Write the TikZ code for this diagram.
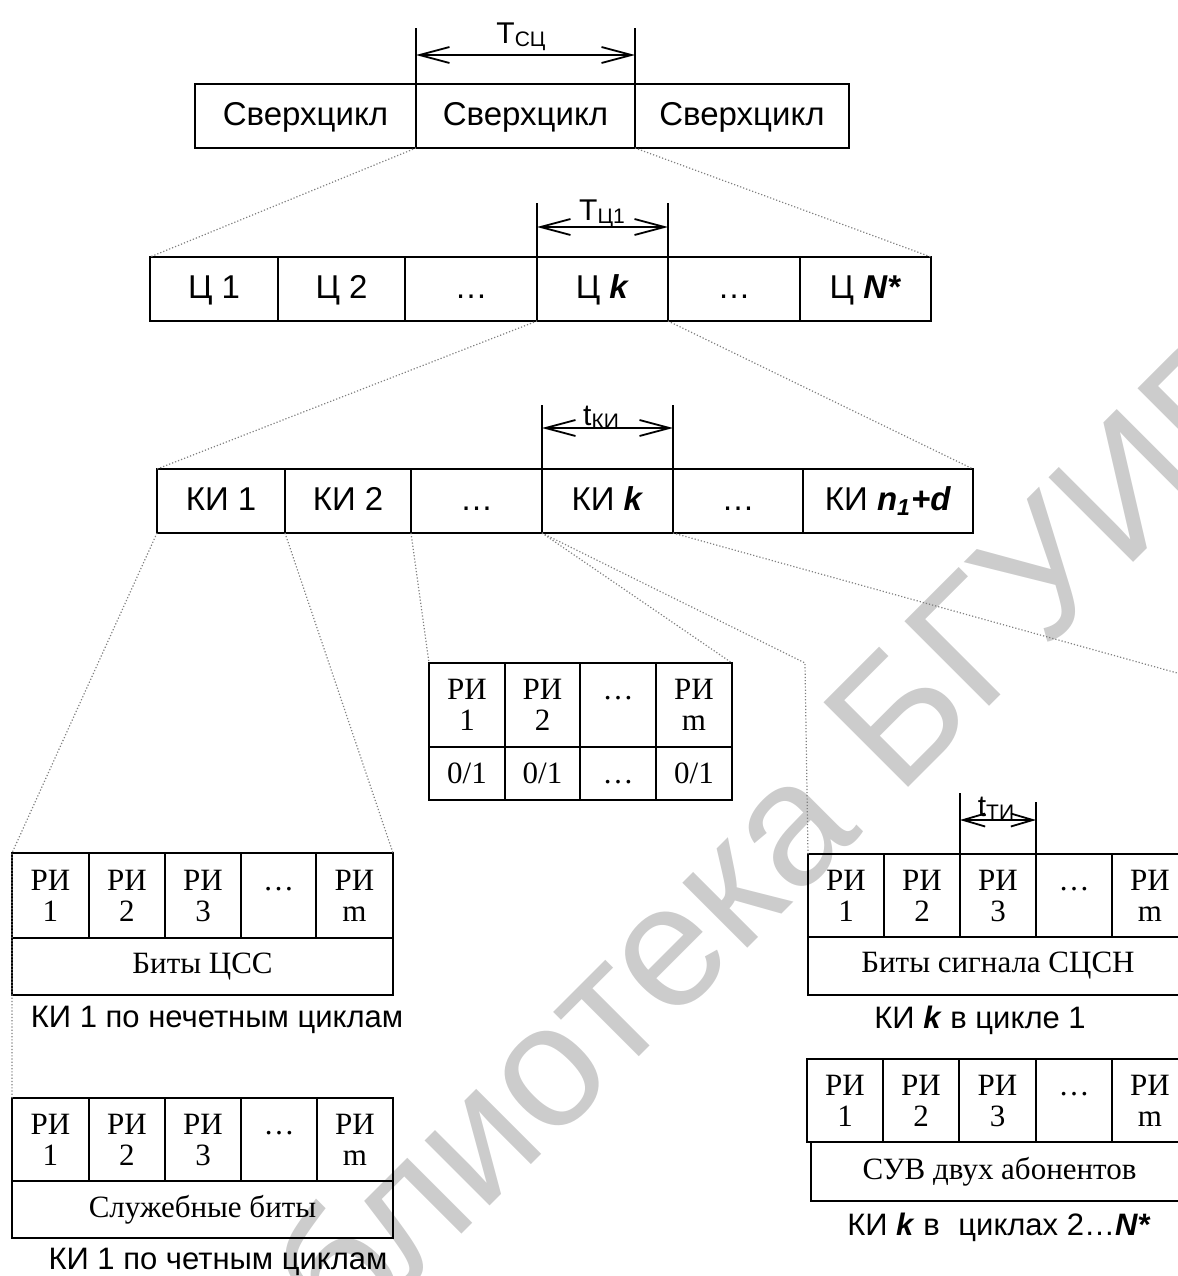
\documentclass[tikz,border=0pt]{standalone}
\usepackage{fontspec}
\setmainfont{Liberation Sans}
\newfontfamily\serifrm{Liberation Serif}
\usetikzlibrary{arrows.meta}

% font sizes (1 unit = 0.5pt)
\newcommand\rowtxt{\fontsize{16.5}{18}\selectfont}
\newcommand\captxt{\fontsize{15.5}{17}\selectfont}
\newcommand\tabtxt{\serifrm\fontsize{15.5}{15.5}\selectfont}
\newcommand\dimtxt{\fontsize{15}{16}\selectfont}
\newcommand\subtxt{\fontsize{10.5}{11}\selectfont}
\newcommand\sublab[1]{\raisebox{-1.5pt}{\subtxt #1}}
\newcommand\bi[1]{\textbf{\textit{#1}}}
\newcommand\dotsup{\vphantom{Р}…\\\phantom{1}}

% one rectangular cell given by its two corners (x1,y1) (x2,y2)
\newcommand\cellat[7][]{%
  \pgfmathsetmacro\cellw{(#5-#3)*0.5}%
  \pgfmathsetmacro\cellh{(#6-#4)*0.5}%
  \node[cellbox,#1,minimum width=\cellw pt,minimum height=\cellh pt]
    (#2) at ({(#3+#5)/2},{(#4+#6)/2}) {#7};}

\tikzset{
  cellbox/.style={draw, line width=1pt, inner sep=0pt, outer sep=0pt, font=\rowtxt},
  rowcell/.style={text height=11.8pt, text depth=2.5pt},
  tabcell/.style={font=\tabtxt, align=center},
  dimline/.style={line width=0.9pt},
  dimarrow/.style={line width=0.9pt,
    {Straight Barb[length=15pt,width=8pt]}-{Straight Barb[length=15pt,width=8pt]}},
  smallarrow/.style={line width=0.9pt,
    {Straight Barb[length=11pt,width=6.5pt]}-{Straight Barb[length=11pt,width=6.5pt]}},
  dimlabel/.style={font=\dimtxt, inner sep=0pt, anchor=base},
  dotline/.style={draw=black!50, line width=0.6pt, densely dotted},
  caption/.style={font=\captxt, inner sep=0pt},
  wmark/.style={font=\fontsize{87}{90}\selectfont, text=black!20, inner sep=0pt}
}

\begin{document}
\begin{tikzpicture}[x=0.5pt,y=-0.5pt]
\useasboundingbox (0,0) rectangle (1178,1276);
\clip (0,0) rectangle (1178,1276);

% watermark
\node[wmark, anchor=base west, rotate=45] (wm) at (195,1501) {Библиотека БГУИР};

% superframes
\cellat[rowcell]{s1}{195}{84}{416}{148}{Сверхцикл}
\cellat[rowcell]{s2}{416}{84}{635}{148}{Сверхцикл}
\cellat[rowcell]{s3}{635}{84}{849}{148}{Сверхцикл}

\coordinate (d1a) at (416,28);
\coordinate (d1b) at (635,28);
\coordinate (d1l) at (416,55);
\coordinate (d1r) at (635,55);
\draw[dimline] (s2.north west) -- (d1a);
\draw[dimline] (s2.north east) -- (d1b);
\draw[dimarrow] (d1l) -- (d1r);
\node[dimlabel] (d1t) at (521,43) {T\sublab{СЦ}};

% frames
\cellat[rowcell]{c1}{150}{257}{278}{321}{Ц 1}
\cellat[rowcell]{c2}{278}{257}{405}{321}{Ц 2}
\cellat[rowcell]{c3}{405}{257}{537}{321}{…}
\cellat[rowcell]{c4}{537}{257}{668}{321}{Ц \bi{k}}
\cellat[rowcell]{c5}{668}{257}{800}{321}{…}
\cellat[rowcell]{c6}{800}{257}{931}{321}{Ц \bi{N*}}

\coordinate (d2a) at (537,203);
\coordinate (d2b) at (668,203);
\coordinate (d2l) at (537,227);
\coordinate (d2r) at (668,227);
\draw[dimline] (c4.north west) -- (d2a);
\draw[dimline] (c4.north east) -- (d2b);
\draw[dimarrow] (d2l) -- (d2r);
\node[dimlabel] (d2t) at (602,220) {T\sublab{Ц1}};

% channel intervals
\cellat[rowcell]{k1}{157}{469}{285}{533}{КИ 1}
\cellat[rowcell]{k2}{285}{469}{411}{533}{КИ 2}
\cellat[rowcell]{k3}{411}{469}{542}{533}{…}
\cellat[rowcell]{k4}{542}{469}{673}{533}{КИ \bi{k}}
\cellat[rowcell]{k5}{673}{469}{803}{533}{…}
\cellat[rowcell]{k6}{803}{469}{973}{533}{КИ \bi{n\textsubscript{1}+d}}

\coordinate (d3a) at (542,405);
\coordinate (d3b) at (673,405);
\coordinate (d3l) at (542,428);
\coordinate (d3r) at (673,428);
\draw[dimline] (k4.north west) -- (d3a);
\draw[dimline] (k4.north east) -- (d3b);
\draw[dimarrow] (d3l) -- (d3r);
\node[dimlabel] (d3t) at (601,425) {t\sublab{КИ}};

% zoom-in connectors
\draw[dotline] (s2.south west) -- (c1.north west);
\draw[dotline] (s2.south east) -- (c6.north east);
\draw[dotline] (c4.south west) -- (k1.north west);
\draw[dotline] (c4.south east) -- (k6.north east);

% middle table: one channel interval
\cellat[tabcell]{m1}{429}{663}{505}{747}{РИ\\1}
\cellat[tabcell]{m2}{505}{663}{580}{747}{РИ\\2}
\cellat[tabcell]{m3}{580}{663}{656}{747}{\dotsup}
\cellat[tabcell]{m4}{656}{663}{732}{747}{РИ\\m}
\cellat[tabcell]{m5}{429}{747}{505}{800}{0/1}
\cellat[tabcell]{m6}{505}{747}{580}{800}{0/1}
\cellat[tabcell]{m7}{580}{747}{656}{800}{\vphantom{0}…}
\cellat[tabcell]{m8}{656}{747}{732}{800}{0/1}

% left upper table
\cellat[tabcell]{a1}{12}{853}{89}{938}{РИ\\1}
\cellat[tabcell]{a2}{89}{853}{165}{938}{РИ\\2}
\cellat[tabcell]{a3}{165}{853}{241}{938}{РИ\\3}
\cellat[tabcell]{a4}{241}{853}{316}{938}{\dotsup}
\cellat[tabcell]{a5}{316}{853}{393}{938}{РИ\\m}
\cellat[tabcell]{a6}{12}{938}{393}{995}{Биты ЦСС}
\node[caption] (ac) at (217,1020) {КИ 1 по нечетным циклам};

% left lower table
\cellat[tabcell]{b1}{12}{1098}{89}{1181}{РИ\\1}
\cellat[tabcell]{b2}{89}{1098}{165}{1181}{РИ\\2}
\cellat[tabcell]{b3}{165}{1098}{241}{1181}{РИ\\3}
\cellat[tabcell]{b4}{241}{1098}{317}{1181}{\dotsup}
\cellat[tabcell]{b5}{317}{1098}{393}{1181}{РИ\\m}
\cellat[tabcell]{b6}{12}{1181}{393}{1238}{Служебные биты}
\node[caption] (bc) at (218,1262) {КИ 1 по четным циклам};

% right upper table
\cellat[tabcell]{r1}{808}{854}{884}{937}{РИ\\1}
\cellat[tabcell]{r2}{884}{854}{960}{937}{РИ\\2}
\cellat[tabcell]{r3}{960}{854}{1036}{937}{РИ\\3}
\cellat[tabcell]{r4}{1036}{854}{1112}{937}{\dotsup}
\cellat[tabcell]{r5}{1112}{854}{1188}{937}{РИ\\m}
\cellat[tabcell]{r6}{808}{937}{1188}{995}{Биты сигнала СЦСН}
\node[caption] (rc) at (980,1020) {КИ \bi{k} в цикле 1};

\coordinate (d4a) at (960,793);
\coordinate (d4b) at (1036,802);
\coordinate (d4l) at (960,820);
\coordinate (d4r) at (1036,820);
\draw[dimline] (r3.north west) -- (d4a);
\draw[dimline] (r3.north east) -- (d4b);
\draw[smallarrow] (d4l) -- (d4r);
\node[dimlabel] (d4t) at (996,816) {t\sublab{ТИ}};

% right lower table
\cellat[tabcell]{q1}{807}{1059}{883}{1142}{РИ\\1}
\cellat[tabcell]{q2}{883}{1059}{959}{1142}{РИ\\2}
\cellat[tabcell]{q3}{959}{1059}{1036}{1142}{РИ\\3}
\cellat[tabcell]{q4}{1036}{1059}{1112}{1142}{\dotsup}
\cellat[tabcell]{q5}{1112}{1059}{1188}{1142}{РИ\\m}
\cellat[tabcell]{q6}{811}{1142}{1188}{1201}{СУВ двух абонентов}
\node[caption] (qc) at (999,1227) {КИ \bi{k} в\hspace{0.6em}циклах 2…\bi{N*}};

% connectors from the channel intervals to their bit layouts
\coordinate (rbend) at (805,663);
\coordinate (rbend2) at (1188,676);
\draw[dotline] (k1.south west) -- (a1.north west) -- (b1.north west);
\draw[dotline] (k1.south east) -- (a5.north east);
\draw[dotline] (k2.south east) -- (m1.north west);
\draw[dotline] (k4.south west) -- (m4.north east);
\draw[dotline] (k4.south west) -- (rbend) -- (r1.north west);
\draw[dotline] (k4.south east) -- (rbend2) -- (r5.north east);
\end{tikzpicture}
\end{document}
